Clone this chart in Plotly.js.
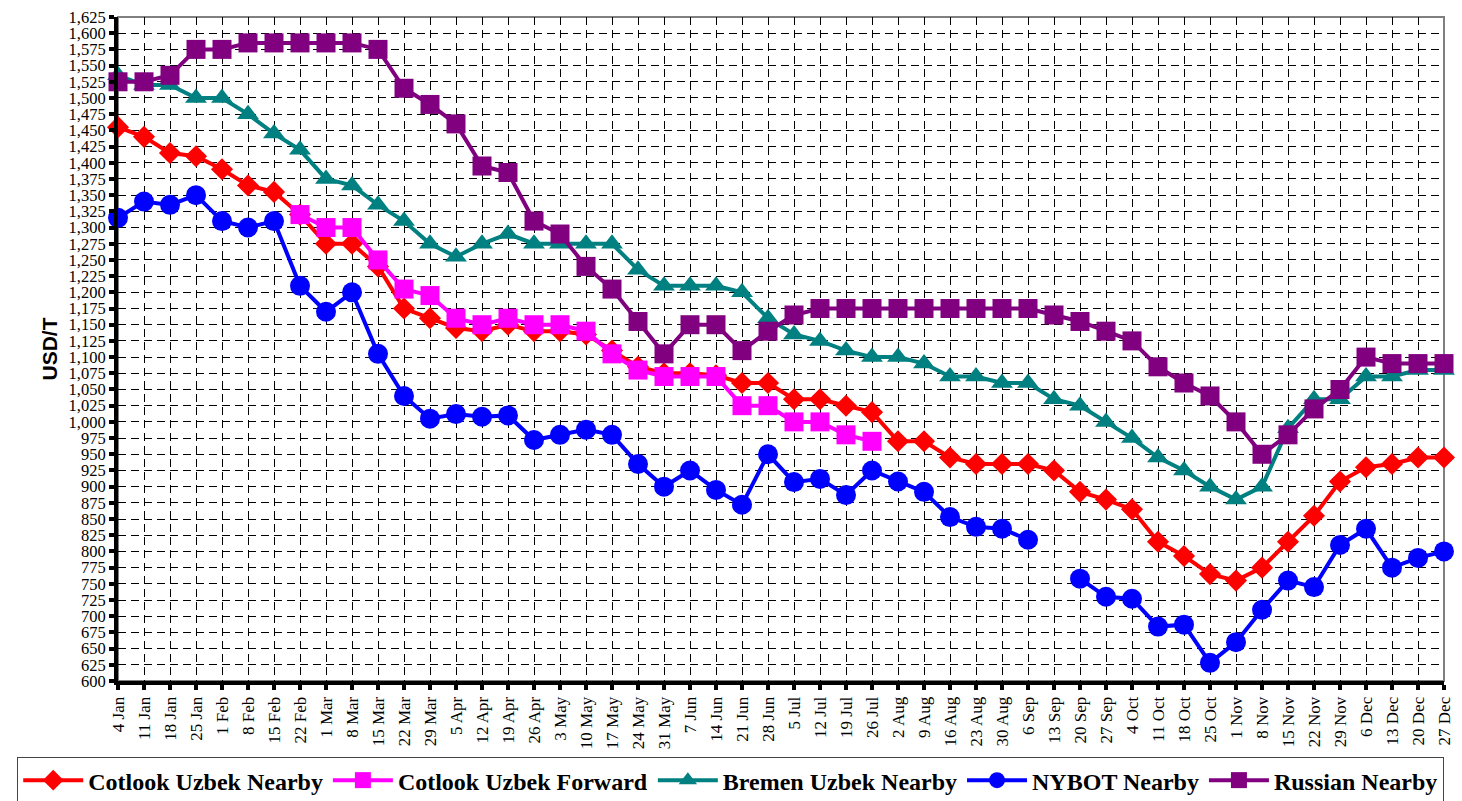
<!DOCTYPE html>
<html>
<head>
<meta charset="utf-8">
<script src="https://cdn.plot.ly/plotly-3.0.1.min.js"></script>
<style>
html,body{margin:0;padding:0;background:#fff;}
#chart{width:1462px;height:801px;}
</style>
</head>
<body>
<div id="chart"></div>
<script>
var weeks = ['4 Jan','11 Jan','18 Jan','25 Jan','1 Feb','8 Feb','15 Feb','22 Feb','1 Mar','8 Mar','15 Mar','22 Mar','29 Mar','5 Apr','12 Apr','19 Apr','26 Apr','3 May','10 May','17 May','24 May','31 May','7 Jun','14 Jun','21 Jun','28 Jun','5 Jul','12 Jul','19 Jul','26 Jul','2 Aug','9 Aug','16 Aug','23 Aug','30 Aug','6 Sep','13 Sep','20 Sep','27 Sep','4 Oct','11 Oct','18 Oct','25 Oct','1 Nov','8 Nov','15 Nov','22 Nov','29 Nov','6 Dec','13 Dec','20 Dec','27 Dec'];

var cotlookNearby = [1455,1440,1415,1410,1390,1365,1355,1320,1275,1275,1240,1175,1160,1145,1140,1150,1140,1140,1135,1110,1085,1075,1075,1072,1060,1060,1035,1035,1025,1015,970,970,945,935,935,935,925,892,880,865,815,793,765,755,775,815,855,908,930,935,945,945];

var cotlookForward = [null,null,null,null,null,null,null,1320,1300,1300,1250,1205,1195,1160,1150,1160,1150,1150,1140,1105,1080,1070,1070,1070,1025,1025,1000,1000,980,970,null,null,null,null,null,null,null,null,null,null,null,null,null,null,null,null,null,null,null,null,null,null];

var bremenNearby = [1535,1520,1520,1500,1500,1475,1445,1420,1375,1365,1335,1310,1275,1255,1275,1290,1275,1275,1275,1275,1235,1210,1210,1210,1200,1160,1135,1125,1110,1100,1100,1090,1070,1070,1060,1060,1035,1025,1000,975,945,925,900,880,900,990,1035,1035,1070,1070,1080,1080];

var nybotNearby = [1315,1340,1335,1350,1310,1300,1310,1210,1170,1200,1105,1040,1005,1012,1008,1010,972,980,988,980,935,900,925,895,872,950,907,912,887,925,908,892,853,838,835,818,null,758,730,727,684,687,628,660,710,755,745,810,835,775,790,800];

var russianNearby = [1525,1525,1535,1575,1575,1585,1585,1585,1585,1585,1575,1515,1490,1460,1395,1385,1310,1290,1240,1205,1155,1105,1150,1150,1110,1140,1165,1175,1175,1175,1175,1175,1175,1175,1175,1175,1165,1155,1140,1125,1085,1060,1040,1000,950,980,1020,1050,1100,1090,1090,1090];

var seriesNames = ['Cotlook Uzbek Nearby','Cotlook Uzbek Forward','Bremen Uzbek Nearby','NYBOT Nearby','Russian Nearby'];

var SERIF = '"Liberation Serif", "Times New Roman", Times, serif';

function mk(name, y, color, symbol, size) {
  return {
    type: 'scatter', mode: 'lines+markers', name: '<b>' + name + '</b>',
    x: weeks, y: y, connectgaps: false, cliponaxis: false,
    line: {color: color, width: 4},
    marker: {color: color, symbol: symbol, size: size, line: {width: 0}}
  };
}

var data = [
  mk(seriesNames[0], cotlookNearby, '#FF0000', 'diamond', 17),
  mk(seriesNames[1], cotlookForward, '#FF00FF', 'square', 19),
  mk(seriesNames[2], bremenNearby, '#008080', 'triangle-up', 19),
  mk(seriesNames[3], nybotNearby, '#0000FF', 'circle', 20),
  mk(seriesNames[4], russianNearby, '#800080', 'square', 19)
];

var layout = {
  width: 1462, height: 801,
  margin: {l: 118, r: 18, t: 17, b: 120, autoexpand: false},
  paper_bgcolor: '#fff', plot_bgcolor: '#fff',
  showlegend: true,
  xaxis: {
    type: 'category', range: [0, 51], automargin: false,
    showline: true, linecolor: '#000', linewidth: 4,
    ticks: 'outside', ticklen: 5, tickwidth: 4, tickcolor: '#000',
    tickangle: -90,
    tickfont: {family: SERIF, size: 17, color: '#000'},
    showgrid: true, gridcolor: '#000', gridwidth: 1, griddash: '8px,5px',
    zeroline: false, fixedrange: true
  },
  yaxis: {
    range: [600, 1625], tick0: 600, dtick: 25, automargin: false,
    tickformat: ',d',
    showline: true, linecolor: '#000', linewidth: 4,
    ticks: 'outside', ticklen: 5, tickwidth: 4, tickcolor: '#000',
    tickfont: {family: SERIF, size: 16.5, color: '#000'},
    showgrid: true, gridcolor: '#000', gridwidth: 1, griddash: '8px,5px',
    zeroline: false, fixedrange: true,
    title: {text: '<b>USD/T</b>', font: {family: '"Liberation Sans", Arial, sans-serif', size: 21, color: '#000'}, standoff: 6}
  },
  shapes: [{
    type: 'rect', xref: 'paper', yref: 'paper', x0: 0, x1: 1, y0: 0, y1: 1,
    line: {color: '#808080', width: 2}, layer: 'between'
  }],
  legend: {
    orientation: 'h', x: -0.076, xanchor: 'left', y: -0.1145, yanchor: 'top',
    bordercolor: '#444', borderwidth: 1, bgcolor: '#fff',
    font: {family: SERIF, size: 24, color: '#000'},
    itemwidth: 60, traceorder: 'normal'
  }
};

Plotly.newPlot('chart', data, layout, {displayModeBar: false, staticPlot: true});
</script>
</body>
</html>
